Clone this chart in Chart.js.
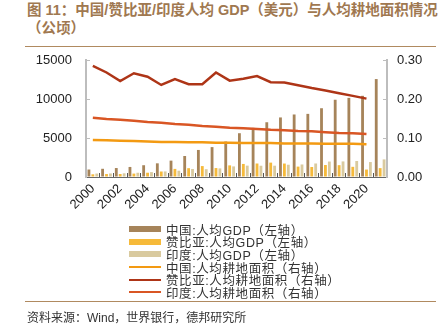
<!DOCTYPE html>
<html>
<head>
<meta charset="utf-8">
<script src="https://cdn.jsdelivr.net/npm/chart.js@4.4.1/dist/chart.umd.min.js"></script>
<style>
  body { margin: 0; width: 444px; height: 334px; position: relative; background: #fff; overflow: hidden;
         font-family: "Liberation Sans", "Noto Sans CJK SC", sans-serif; }
  #title { position: absolute; left: 27px; top: 1px; font-size: 14.5px; font-weight: bold; color: #a07850;
           line-height: 18px; white-space: nowrap; }
  .rule { position: absolute; left: 25px; width: 411px; height: 0; border-top: 1.5px solid #b08a60; }
  #chart { position: absolute; left: 0; top: 0; }
  #legend { position: absolute; left: 129px; top: 223px; font-size: 12.5px; color: #333; letter-spacing: 0.6px; }
  #legend .item { height: 12.6px; display: flex; align-items: center; white-space: nowrap; }
  #legend .sw { width: 32px; margin-right: 5px; }
  #source { position: absolute; left: 27px; top: 308px; font-size: 12px; color: #333; }
</style>
</head>
<body>
<div id="title">图 11：中国/赞比亚/印度人均 GDP（美元）与人均耕地面积情况<br>（公顷）</div>
<div class="rule" style="top:46px"></div>
<canvas id="chart" width="444" height="334"></canvas>
<div id="legend"></div>
<div class="rule" style="top:301px"></div>
<div id="source">资料来源：Wind，世界银行，德邦研究所</div>

<script>
// -----Data
var years = ['2000', '2001', '2002', '2003', '2004', '2005', '2006', '2007', '2008', '2009', '2010',
             '2011', '2012', '2013', '2014', '2015', '2016', '2017', '2018', '2019', '2020', '2021']
// 人均GDP（美元）
var gdpChina  = [959, 1053, 1149, 1289, 1509, 1753, 2099, 2694, 3468, 3832, 4550,
                 5614, 6301, 7020, 7636, 8016, 8094, 8817, 9905, 10144, 10409, 12556]
var gdpZambia = [346, 380, 384, 437, 548, 704, 1039, 1131, 1400, 1148, 1490,
                 1675, 1730, 1844, 1726, 1333, 1280, 1535, 1516, 1305, 956, 1137]
var gdpIndia  = [443, 452, 471, 547, 628, 714, 807, 1028, 999, 1102, 1358,
                 1458, 1444, 1450, 1574, 1606, 1733, 1981, 1997, 2050, 1916, 2257]
// 人均耕地面积（公顷）
var landChina  = [0.095, 0.094, 0.093, 0.092, 0.091, 0.090, 0.090, 0.089, 0.089, 0.088, 0.088,
                  0.087, 0.087, 0.087, 0.086, 0.086, 0.086, 0.085, 0.085, 0.085, 0.084, null]
var landZambia = [0.285, 0.268, 0.246, 0.266, 0.257, 0.236, 0.251, 0.238, 0.238, 0.268, 0.247,
                  0.252, 0.259, 0.243, 0.242, 0.235, 0.228, 0.222, 0.215, 0.208, 0.201, null]
var landIndia  = [0.152, 0.149, 0.147, 0.144, 0.141, 0.139, 0.136, 0.134, 0.131, 0.129, 0.126,
                  0.125, 0.123, 0.121, 0.120, 0.118, 0.117, 0.115, 0.113, 0.112, 0.110, null]
var leftTicks  = [0, 5000, 10000, 15000]
var rightTicks = [0, 0.10, 0.20, 0.30]

// -----Chart
var axisColor = '#bdbdbd'
var tickFont = { family: 'Liberation Sans, Arial, sans-serif', size: 13 }

function bar(label, data, color) {
  return { type: 'bar', label: label, data: data, backgroundColor: color, yAxisID: 'y', order: 2,
           categoryPercentage: 0.86, barPercentage: 0.72 }
}
function line(label, data, color) {
  return { type: 'line', label: label, data: data, borderColor: color, backgroundColor: color,
           borderWidth: 2.5, pointRadius: 0, tension: 0, yAxisID: 'y1', order: 1 }
}

var ctx = document.getElementById('chart')
var myChart = new Chart(ctx, {
  type: 'bar',
  data: {
    labels: years,
    datasets: [
      bar('中国:人均GDP（左轴）', gdpChina, '#a6845a'),
      bar('赞比亚:人均GDP（左轴）', gdpZambia, '#f6ba3a'),
      bar('印度:人均GDP（左轴）', gdpIndia, '#d9ca9f'),
      line('中国:人均耕地面积（右轴）', landChina, '#f39a12'),
      line('赞比亚:人均耕地面积（右轴）', landZambia, '#ae3517'),
      line('印度:人均耕地面积（右轴）', landIndia, '#d95624')
    ]
  },
  options: {
    responsive: false,
    animation: false,
    layout: { padding: { top: 60, left: 0, right: 0, bottom: 117 } },
    plugins: { legend: { display: false }, tooltip: { enabled: false } },
    scales: {
      x: {
        grid: { display: true, drawOnChartArea: false, tickLength: -4, color: '#555', offset: true },
        border: { color: '#666', width: 1 },
        ticks: {
          autoSkip: false, minRotation: 45, maxRotation: 45, padding: 8, color: '#222', font: tickFont,
          callback: function(v, i) { return i % 2 === 0 ? years[i] : '' }
        },
        afterFit: function(s) { s.height = 40 }
      },
      y: {
        position: 'left', min: 0, max: 15000,
        grid: { display: true, drawOnChartArea: false, tickLength: -4, color: axisColor },
        border: { color: axisColor, width: 2 },
        afterBuildTicks: function(s) { s.ticks = leftTicks.map(function(v) { return { value: v } }) },
        ticks: { padding: 18, color: '#222', font: tickFont,
                 callback: function(v) { return String(v) } },
        afterFit: function(s) { s.width = 86 }
      },
      y1: {
        position: 'right', min: 0, max: 0.3,
        grid: { display: true, drawOnChartArea: false, tickLength: -4, color: axisColor },
        border: { color: axisColor, width: 2 },
        afterBuildTicks: function(s) { s.ticks = rightTicks.map(function(v) { return { value: v } }) },
        ticks: { padding: 14, color: '#222', font: tickFont,
                 callback: function(v) { return v.toFixed(2) } },
        afterFit: function(s) { s.width = 57 }
      }
    }
  }
})

// -----Legend (one item per row)
var legend = document.getElementById('legend')
myChart.data.datasets.forEach(function(ds) {
  var item = document.createElement('div')
  item.className = 'item'
  var sw = document.createElement('div')
  sw.className = 'sw'
  if (ds.type === 'bar') {
    sw.style.height = '6px'
    sw.style.background = ds.backgroundColor
  } else {
    sw.style.height = '0'
    sw.style.borderTop = '2.5px solid ' + ds.borderColor
  }
  var txt = document.createElement('span')
  txt.textContent = ds.label
  item.appendChild(sw)
  item.appendChild(txt)
  legend.appendChild(item)
})
</script>
</body>
</html>
